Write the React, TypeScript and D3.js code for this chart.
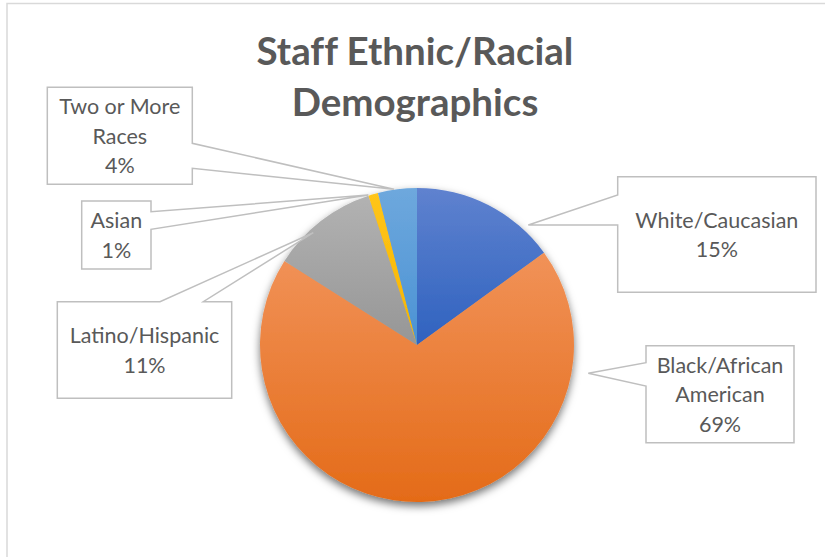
import React, { useEffect, useRef } from "react";
import * as d3 from "d3";

const categories = ["White/Caucasian", "Black/African American", "Latino/Hispanic", "Asian", "Two or More Races"];
const values = [15, 69, 11, 1, 4];
const percentLabels = ["15%", "69%", "11%", "1%", "4%"];
const labelLines = [
  ["White/Caucasian", "15%"],
  ["Black/African", "American", "69%"],
  ["Latino/Hispanic", "11%"],
  ["Asian", "1%"],
  ["Two or More", "Races", "4%"],
];
const titleLines = ["Staff Ethnic/Racial", "Demographics"];

// colours: [top, bottom] of the vertical gradient
const sliceColors: [string, string][] = [
  ["#5f82cf", "#2f62bf"],
  ["#f19258", "#e46b18"],
  ["#b2b2b2", "#969696"],
  ["#ffc51a", "#f5b400"],
  ["#6ea8dd", "#4a92d4"],
];

// callout layout: box [x0,y0,x1,y1], side of wedge, wedge base [a,b], tip [x,y]
const callouts = [
  { box: [617.7, 176.7, 816, 292.3], side: "left", base: [195, 225], tip: [528.3, 225] },
  { box: [646, 345.7, 794, 442.7], side: "left", base: [362.7, 386], tip: [588.3, 373.3] },
  { box: [57.3, 301.7, 231.7, 398.3], side: "top", base: [160, 203.3], tip: [313.3, 232.7] },
  { box: [81.7, 201, 151, 269], side: "right", base: [211.7, 229.3], tip: [368.3, 195] },
  { box: [47.3, 87.3, 192.3, 184.3], side: "right", base: [143.3, 168.3], tip: [394, 189.3] },
];

const W = 825, H = 557;
const CX = 417, CY = 345, R = 157;

function calloutPath(c: any) {
  const [x0, y0, x1, y1] = c.box;
  const [a, b] = c.base;
  const [tx, ty] = c.tip;
  const p = d3.path();
  if (c.side === "left") {
    p.moveTo(x0, y0); p.lineTo(x1, y0); p.lineTo(x1, y1); p.lineTo(x0, y1);
    p.lineTo(x0, b); p.lineTo(tx, ty); p.lineTo(x0, a); p.closePath();
  } else if (c.side === "right") {
    p.moveTo(x0, y0); p.lineTo(x1, y0); p.lineTo(x1, a); p.lineTo(tx, ty); p.lineTo(x1, b);
    p.lineTo(x1, y1); p.lineTo(x0, y1); p.closePath();
  } else {
    p.moveTo(x0, y0); p.lineTo(a, y0); p.lineTo(tx, ty); p.lineTo(b, y0);
    p.lineTo(x1, y0); p.lineTo(x1, y1); p.lineTo(x0, y1); p.closePath();
  }
  return p.toString();
}

export default function App() {
  const ref = useRef<SVGSVGElement>(null);
  useEffect(() => {
    const svg = d3.select(ref.current);
    svg.selectAll("*").remove();

    const defs = svg.append("defs");
    sliceColors.forEach((c, i) => {
      const g = defs.append("linearGradient").attr("id", "g" + i).attr("x1", 0).attr("y1", 0).attr("x2", 0).attr("y2", 1);
      g.append("stop").attr("offset", "0%").attr("stop-color", c[0]);
      g.append("stop").attr("offset", "100%").attr("stop-color", c[1]);
    });
    const f = defs.append("filter").attr("id", "sh").attr("x", "-20%").attr("y", "-20%").attr("width", "140%").attr("height", "150%");
    f.append("feDropShadow").attr("dx", 0).attr("dy", 4).attr("stdDeviation", 4).attr("flood-color", "#000").attr("flood-opacity", 0.55);

    svg.append("rect").attr("x", 0).attr("y", 0).attr("width", W).attr("height", H).attr("fill", "#fff");
    svg.append("rect").attr("x", 7).attr("y", 3.5).attr("width", W + 20).attr("height", H + 20)
      .attr("fill", "none").attr("stroke", "#d9d9d9").attr("stroke-width", 1.5);

    // title
    const title = svg.append("text").attr("text-anchor", "middle").attr("fill", "#595959")
      .attr("font-family", "Lato, 'Open Sans', sans-serif").attr("font-weight", 700).attr("font-size", 38.5)
      .style("font-variant-ligatures", "none");
    titleLines.forEach((t, i) => title.append("tspan").attr("x", 415).attr("y", 65 + i * 51).text(t));

    const pie = d3.pie<number>().sort(null).value((d) => d)(values);
    const arc = d3.arc<d3.PieArcDatum<number>>().innerRadius(0).outerRadius(R);
    const pg = svg.append("g").attr("transform", `translate(${CX},${CY})`).attr("filter", "url(#sh)");
    pg.selectAll("path").data(pie).enter().append("path")
      .attr("d", arc as any)
      .attr("fill", (d, i) => `url(#g${i})`)
      .attr("stroke", "none");

    // callouts
    callouts.forEach((c, i) => {
      svg.append("path").attr("d", calloutPath(c)).attr("fill", "#fff")
        .attr("stroke", "#bfbfbf").attr("stroke-width", 1.5).attr("stroke-linejoin", "miter");
      const [x0, y0, x1, y1] = c.box;
      const lines = labelLines[i];
      const lh = 29.5;
      const cy = (y0 + y1) / 2;
      const t = svg.append("text").attr("text-anchor", "middle").attr("fill", "#595959")
        .attr("font-family", "Lato, 'Open Sans', sans-serif").attr("font-size", 21.5);
      lines.forEach((ln, k) => {
        t.append("tspan").attr("x", (x0 + x1) / 2)
          .attr("y", cy + (k - (lines.length - 1) / 2) * lh)
          .attr("dominant-baseline", "central").text(ln);
      });
      t.append("title").text(`${categories[i]}: ${percentLabels[i]}`);
    });
  }, []);
  return (
    <svg ref={ref} width={W} height={H} style={{ position: "absolute", left: 0, top: 0, display: "block" }} />
  );
}
